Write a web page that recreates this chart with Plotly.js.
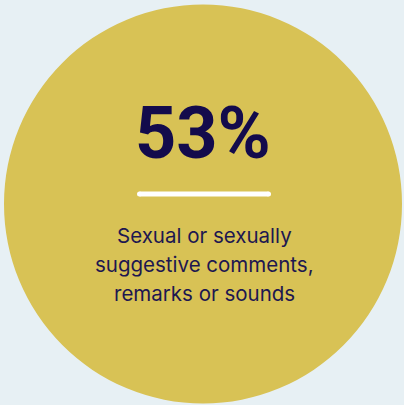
<!DOCTYPE html>
<html>
<head>
<meta charset="utf-8">
<script src="https://cdn.plot.ly/plotly-3.0.1.min.js"></script>
<style>html,body{margin:0;padding:0;background:#e7f0f4;}#chart{width:404px;height:405px;}</style>
</head>
<body>
<div id="chart"></div>
<script>
// Data
const percentValues = [53];
const percentLabels = ["Sexual or sexually", "suggestive comments,", "remarks or sounds"];

const bg = '#e7f0f4';
const circleColor = '#d8c255';
const navy = '#130b4c';
const textNavy = '#1d1750';

const labelY = [235, 264, 293];

const annotations = [
  {x: 203, y: 133, xref: 'x', yref: 'y', xanchor: 'center', yanchor: 'middle',
   text: percentValues[0] + '%', showarrow: false,
   font: {family: 'Roboto, sans-serif', size: 72, color: navy, weight: 700}}
];
percentLabels.forEach((t, i) => {
  annotations.push({x: 204, y: labelY[i], xref: 'x', yref: 'y', xanchor: 'center', yanchor: 'middle',
    text: t, showarrow: false,
    font: {family: 'Inter, sans-serif', size: 20.5, color: textNavy}});
});

const layout = {
  width: 404, height: 405,
  margin: {l: 0, r: 0, t: 0, b: 0},
  paper_bgcolor: bg, plot_bgcolor: bg,
  showlegend: false,
  xaxis: {range: [0, 404], visible: false, fixedrange: true},
  yaxis: {range: [405, 0], visible: false, fixedrange: true},
  shapes: [
    {type: 'circle', xref: 'x', yref: 'y', x0: 4, x1: 402, y0: 4.5, y1: 403.5,
     fillcolor: circleColor, line: {width: 0}, layer: 'below'},
    {type: 'rect', xref: 'x', yref: 'y', x0: 139.5, x1: 268.5, y0: 191.5, y1: 196.5,
     fillcolor: '#ffffff', line: {width: 0}},
    {type: 'circle', xref: 'x', yref: 'y', x0: 137, x1: 142, y0: 191.5, y1: 196.5,
     fillcolor: '#ffffff', line: {width: 0}},
    {type: 'circle', xref: 'x', yref: 'y', x0: 266, x1: 271, y0: 191.5, y1: 196.5,
     fillcolor: '#ffffff', line: {width: 0}}
  ],
  annotations: annotations
};

Plotly.newPlot('chart', [], layout, {staticPlot: true, displayModeBar: false});
</script>
</body>
</html>
